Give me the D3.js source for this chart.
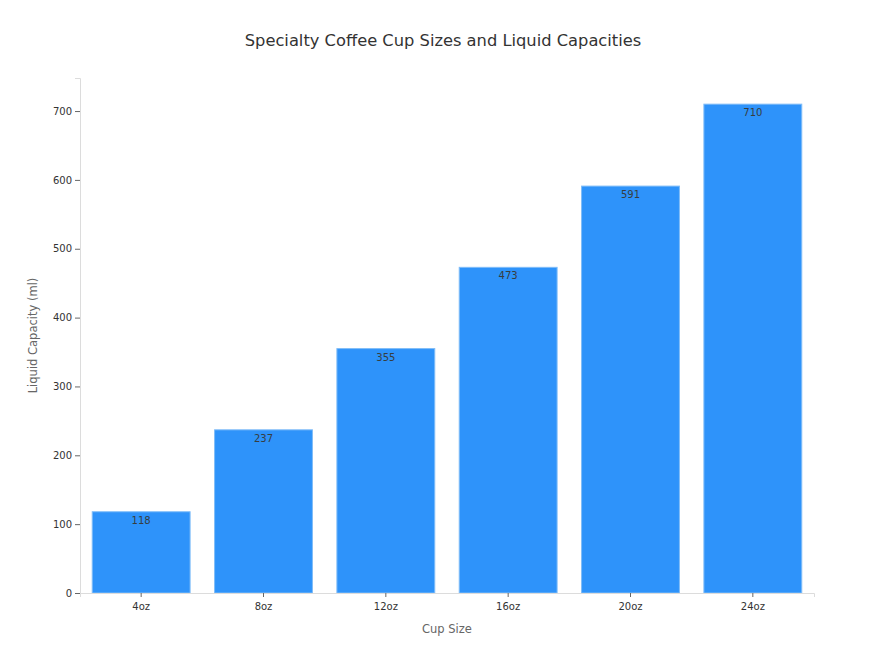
<!DOCTYPE html>
<html>
<head>
<meta charset="utf-8">
<title>Specialty Coffee Cup Sizes</title>
<script src="https://cdn.jsdelivr.net/npm/d3@7"></script>
<style>
  body { margin: 0; background: #fff; font-family: "DejaVu Sans", sans-serif; }
</style>
</head>
<body>
<svg id="chart" width="869" height="657"></svg>
<script>
// data
const cupSizes = ["4oz", "8oz", "12oz", "16oz", "20oz", "24oz"];
const capacities = [118, 237, 355, 473, 591, 710];
const yTicks = [0, 100, 200, 300, 400, 500, 600, 700];

const svg = d3.select("#chart");
const margin = {top: 78, right: 55, bottom: 64, left: 80};
const width = 869 - margin.left - margin.right,
      height = 657 - margin.top - margin.bottom;

const g = svg.append("g").attr("transform", `translate(${margin.left},${margin.top})`);

const x = d3.scaleBand().domain(cupSizes).range([0, width]).paddingInner(0.2).paddingOuter(0.1);
const y = d3.scaleLinear().domain([0, 748]).range([height, 0]);

// title
svg.append("text")
  .attr("x", 443).attr("y", 46)
  .attr("text-anchor", "middle")
  .style("font-size", "16.3px").style("fill", "#333")
  .text("Specialty Coffee Cup Sizes and Liquid Capacities");

// bars
g.selectAll("rect.bar")
  .data(capacities)
  .enter().append("rect")
  .attr("class", "bar")
  .attr("x", (d, i) => x(cupSizes[i]))
  .attr("y", d => y(d))
  .attr("width", x.bandwidth())
  .attr("height", d => height - y(d))
  .attr("fill", "#2E93FA")
  .attr("stroke", "#7fbcf8")
  .attr("stroke-width", 1);

// value labels
g.selectAll("text.val")
  .data(capacities)
  .enter().append("text")
  .attr("class", "val")
  .attr("x", (d, i) => x(cupSizes[i]) + x.bandwidth() / 2)
  .attr("y", d => y(d) + 12)
  .attr("text-anchor", "middle")
  .style("font-size", "10px").style("fill", "#373d3f")
  .text(d => d);

// axes
const yAxis = g.append("g")
  .call(d3.axisLeft(y).tickValues(yTicks).tickSize(5).tickPadding(3));
const xAxis = g.append("g")
  .attr("transform", `translate(0,${height})`)
  .call(d3.axisBottom(x).tickSize(4).tickPadding(6));

[yAxis, xAxis].forEach(a => {
  a.select(".domain").attr("stroke", "#dcdcdc");
  a.selectAll(".tick line").attr("stroke", "#666");
  a.selectAll(".tick text").style("font-size", "10px").style("fill", "#333")
    .style("font-family", "DejaVu Sans, sans-serif");
});

// axis titles
svg.append("text")
  .attr("x", margin.left + width / 2).attr("y", 633)
  .attr("text-anchor", "middle")
  .style("font-size", "11.5px").style("fill", "#666")
  .text("Cup Size");

svg.append("text")
  .attr("transform", `translate(37,${margin.top + height / 2}) rotate(-90)`)
  .attr("text-anchor", "middle")
  .style("font-size", "11.5px").style("fill", "#666")
  .text("Liquid Capacity (ml)");
</script>
</body>
</html>
